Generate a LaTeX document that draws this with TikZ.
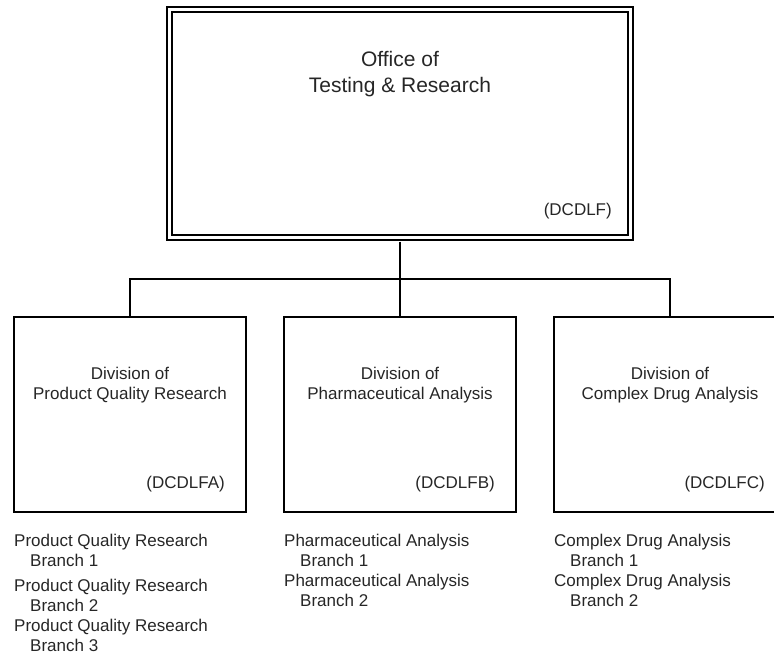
\documentclass[tikz,border=0pt]{standalone}
\usepackage{fontspec}
\setmainfont{Liberation Sans}
\usetikzlibrary{positioning}

\begin{document}
\begin{tikzpicture}[x=1pt,y=-1pt,every node/.style={text=black!85,inner sep=0pt},
  office/.style={draw,double,line width=1.5pt,double distance=3.5pt,minimum width=461pt,minimum height=228pt},
  division/.style={draw,line width=1.8pt,minimum width=232pt,minimum height=195pt},
  bigname/.style={font=\fontsize{21}{26}\selectfont,align=center,anchor=base},
  divname/.style={font=\fontsize{17}{20}\selectfont,align=center,anchor=base},
  code/.style={font=\fontsize{17}{20}\selectfont,anchor=base east},
  branches/.style={font=\fontsize{17}{20}\selectfont,align=left,anchor=base west},
  link/.style={line width=1.8pt}]

\useasboundingbox (0,0) rectangle (774,657);
\clip (0,0) rectangle (774,657);

\node[office]   (otr)   at (400,123.5) {};
\node[bigname]  (otrname) at (400,92)  {Office of\\Testing \& Research};
\node[code]     (otrcode) at (612,215) {(DCDLF)};

\node[division] (pqr) at (130,414.5) {};
\node[division] (pha) at (400,414.5) {};
\node[division] (cda) at (670,414.5) {};

\node[divname] (pqrname) at (130,399) {Division of\\Product Quality Research};
\node[divname] (phaname) at (400,399) {Division of\\Pharmaceutical Analysis};
\node[divname] (cdaname) at (670,399) {Division of\\Complex Drug Analysis};

\node[code] (pqrcode) at (225,488) {(DCDLFA)};
\node[code] (phacode) at (495,488) {(DCDLFB)};
\node[code] (cdacode) at (765,488) {(DCDLFC)};

\node[branches] (pqrlist) at (14,651)  {Product Quality Research\\\hspace*{16pt}Branch 1\\[5pt]Product Quality Research\\\hspace*{16pt}Branch 2\\Product Quality Research\\\hspace*{16pt}Branch 3};
\node[branches] (phalist) at (284,606) {Pharmaceutical Analysis\\\hspace*{16pt}Branch 1\\Pharmaceutical Analysis\\\hspace*{16pt}Branch 2};
\node[branches] (cdalist) at (554,606) {Complex Drug Analysis\\\hspace*{16pt}Branch 1\\Complex Drug Analysis\\\hspace*{16pt}Branch 2};

\coordinate (bus) at (400,279);
\draw[link] ([yshift=-3.25pt]otr.south) -- (bus);
\draw[link] (pqr.north) |- (bus) -| (cda.north);
\draw[link] (bus) -- (pha.north);

\end{tikzpicture}
\end{document}
